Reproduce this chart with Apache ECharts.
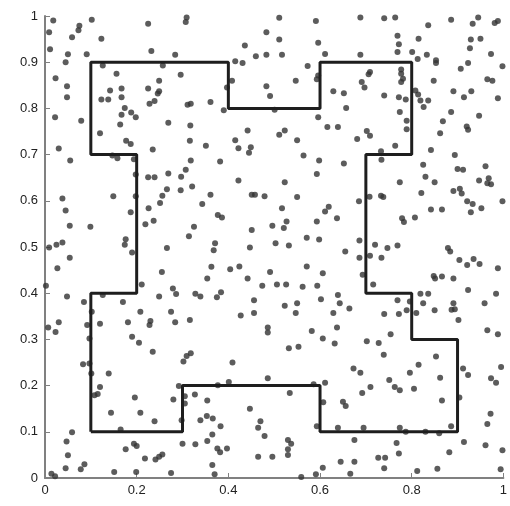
<!DOCTYPE html>
<html>
<head>
<meta charset="utf-8">
<script src="https://cdn.jsdelivr.net/npm/echarts@6/dist/echarts.min.js"></script>
<style>
  html, body { margin: 0; padding: 0; background: #fff; }
  #chart { width: 510px; height: 506px; }
</style>
</head>
<body>
<div id="chart"></div>
<script>
// tick labels
var xTicks = [0, 0.2, 0.4, 0.6, 0.8, 1];
var yTicks = [0, 0.1, 0.2, 0.3, 0.4, 0.5, 0.6, 0.7, 0.8, 0.9, 1];

// boundary of the region (closed outline)
var boundaryX = [0.1, 0.3, 0.3, 0.6, 0.6, 0.9, 0.9, 0.8, 0.8, 0.7, 0.7, 0.8, 0.8, 0.6, 0.6, 0.4, 0.4, 0.1, 0.1, 0.2, 0.2, 0.1, 0.1];
var boundaryY = [0.1, 0.1, 0.2, 0.2, 0.1, 0.1, 0.3, 0.3, 0.4, 0.4, 0.7, 0.7, 0.9, 0.9, 0.8, 0.8, 0.9, 0.9, 0.7, 0.7, 0.4, 0.4, 0.1];

// sample points
var points = [
  [0.018,0.990],[0.009,0.965],[0.075,0.979],[0.073,0.969],[0.102,0.992],[0.059,0.954],[0.123,0.951],[0.225,0.983],[0.309,0.997],[0.307,0.987],
  [0.011,0.928],[0.050,0.917],[0.091,0.917],[0.045,0.900],[0.232,0.924],[0.284,0.916],[0.126,0.893],[0.156,0.875],[0.257,0.893],[0.296,0.873],
  [0.023,0.865],[0.048,0.848],[0.048,0.824],[0.249,0.860],[0.225,0.843],[0.249,0.837],[0.246,0.832],[0.142,0.839],[0.167,0.843],[0.167,0.824],
  [0.123,0.819],[0.138,0.819],[0.239,0.816],[0.228,0.810],[0.311,0.808],[0.318,0.810],[0.174,0.801],[0.188,0.791],[0.198,0.781],[0.167,0.786],
  [0.022,0.781],[0.079,0.773],[0.164,0.765],[0.269,0.769],[0.317,0.763],
  [0.511,0.996],[0.591,0.989],[0.483,0.965],[0.511,0.949],[0.436,0.936],[0.596,0.942],[0.460,0.913],[0.483,0.916],[0.517,0.916],[0.611,0.918],
  [0.415,0.902],[0.431,0.898],[0.573,0.892],[0.596,0.871],[0.593,0.863],[0.408,0.860],[0.397,0.845],[0.547,0.860],[0.483,0.848],[0.491,0.827],
  [0.361,0.814],[0.390,0.796],[0.501,0.797],[0.629,0.837],[0.652,0.833],[0.657,0.801],[0.596,0.781],[0.616,0.760],[0.639,0.760],[0.442,0.752],
  [0.523,0.752],
  [0.688,0.997],[0.740,0.995],[0.764,0.997],[0.836,0.980],[0.886,0.992],[0.945,0.997],[0.933,0.983],[0.981,0.985],[0.988,0.989],[0.769,0.957],
  [0.772,0.939],[0.815,0.951],[0.929,0.949],[0.950,0.951],[0.927,0.930],[0.769,0.922],[0.801,0.922],[0.833,0.916],[0.973,0.918],[0.688,0.916],
  [0.813,0.907],[0.853,0.904],[0.853,0.898],[0.923,0.898],[0.907,0.886],[0.998,0.891],[0.709,0.879],[0.706,0.874],[0.777,0.884],[0.777,0.875],
  [0.781,0.864],[0.777,0.857],[0.691,0.857],[0.697,0.845],[0.848,0.860],[0.965,0.863],[0.976,0.860],[0.808,0.839],[0.814,0.830],[0.819,0.817],
  [0.836,0.817],[0.826,0.803],[0.740,0.828],[0.772,0.824],[0.787,0.819],[0.891,0.837],[0.914,0.824],[0.930,0.837],[0.988,0.822],[0.774,0.792],
  [0.789,0.773],[0.789,0.755],[0.886,0.792],[0.868,0.772],[0.947,0.784],[0.920,0.761],[0.923,0.754],[0.702,0.751],
  [0.120,0.746],[0.177,0.730],[0.187,0.723],[0.030,0.713],[0.055,0.687],[0.147,0.698],[0.158,0.692],[0.194,0.690],[0.235,0.711],[0.316,0.730],
  [0.318,0.687],[0.198,0.657],[0.225,0.651],[0.239,0.651],[0.269,0.659],[0.307,0.667],[0.297,0.652],[0.266,0.625],[0.296,0.623],[0.321,0.631],
  [0.038,0.605],[0.149,0.610],[0.198,0.610],[0.256,0.611],[0.251,0.595],[0.045,0.579],[0.187,0.575],[0.226,0.584],[0.054,0.546],[0.099,0.544],
  [0.219,0.549],[0.237,0.557],[0.325,0.544],[0.314,0.523],[0.176,0.517],[0.174,0.505],[0.025,0.505],[0.038,0.510],[0.266,0.498],
  [0.511,0.743],[0.351,0.719],[0.415,0.731],[0.422,0.714],[0.449,0.716],[0.445,0.704],[0.550,0.731],[0.564,0.698],[0.598,0.687],[0.652,0.681],
  [0.382,0.685],[0.593,0.658],[0.422,0.644],[0.523,0.640],[0.361,0.613],[0.451,0.613],[0.458,0.613],[0.479,0.610],[0.550,0.608],[0.343,0.593],
  [0.517,0.584],[0.619,0.587],[0.611,0.577],[0.377,0.569],[0.386,0.564],[0.637,0.562],[0.451,0.537],[0.496,0.546],[0.527,0.555],[0.521,0.541],
  [0.593,0.555],[0.571,0.520],[0.598,0.516],[0.371,0.508],[0.503,0.508],[0.532,0.503],[0.447,0.499],
  [0.709,0.741],[0.681,0.734],[0.764,0.719],[0.862,0.746],[0.733,0.707],[0.734,0.689],[0.842,0.710],[0.894,0.699],[0.825,0.678],[0.900,0.669],
  [0.912,0.667],[0.961,0.675],[0.830,0.652],[0.850,0.640],[0.774,0.640],[0.947,0.644],[0.968,0.649],[0.965,0.638],[0.973,0.636],[0.685,0.599],
  [0.708,0.609],[0.733,0.611],[0.738,0.608],[0.821,0.617],[0.891,0.621],[0.905,0.626],[0.909,0.616],[0.998,0.599],[0.921,0.599],[0.933,0.593],
  [0.952,0.584],[0.929,0.575],[0.842,0.581],[0.866,0.581],[0.779,0.562],[0.783,0.554],[0.807,0.564],[0.686,0.514],[0.720,0.505],[0.747,0.498],
  [0.769,0.503],[0.879,0.498],
  [0.009,0.499],[0.190,0.488],[0.054,0.477],[0.027,0.454],[0.255,0.446],[0.002,0.416],[0.211,0.419],[0.279,0.410],[0.286,0.398],[0.048,0.393],
  [0.126,0.396],[0.249,0.393],[0.328,0.399],[0.085,0.381],[0.170,0.381],[0.208,0.360],[0.275,0.360],[0.102,0.360],[0.030,0.337],[0.092,0.331],
  [0.120,0.334],[0.181,0.337],[0.230,0.340],[0.228,0.331],[0.284,0.337],[0.316,0.342],[0.007,0.326],[0.023,0.316],[0.097,0.302],[0.190,0.306],
  [0.205,0.293],[0.235,0.273],[0.309,0.264],[0.318,0.270],[0.302,0.252],[0.083,0.246],[0.097,0.248],
  [0.368,0.493],[0.655,0.490],[0.363,0.457],[0.404,0.452],[0.424,0.458],[0.491,0.446],[0.571,0.458],[0.606,0.443],[0.354,0.432],[0.442,0.432],
  [0.474,0.416],[0.506,0.419],[0.526,0.419],[0.562,0.414],[0.594,0.416],[0.339,0.393],[0.375,0.391],[0.384,0.402],[0.456,0.385],[0.523,0.373],
  [0.550,0.378],[0.602,0.387],[0.639,0.396],[0.643,0.378],[0.664,0.367],[0.427,0.352],[0.456,0.357],[0.547,0.357],[0.629,0.357],[0.486,0.326],
  [0.486,0.315],[0.582,0.318],[0.637,0.326],[0.606,0.302],[0.632,0.291],[0.532,0.281],[0.553,0.284],[0.409,0.250],
  [0.884,0.490],[0.686,0.477],[0.709,0.481],[0.734,0.477],[0.904,0.472],[0.921,0.461],[0.935,0.474],[0.948,0.463],[0.988,0.454],[0.693,0.440],
  [0.848,0.437],[0.851,0.432],[0.866,0.436],[0.891,0.432],[0.716,0.419],[0.923,0.407],[0.984,0.399],[0.819,0.399],[0.836,0.399],[0.769,0.385],
  [0.796,0.382],[0.825,0.378],[0.891,0.378],[0.894,0.365],[0.887,0.364],[0.959,0.378],[0.789,0.363],[0.810,0.357],[0.850,0.363],[0.740,0.355],
  [0.772,0.355],[0.902,0.342],[0.965,0.320],[0.988,0.311],[0.754,0.311],[0.702,0.296],[0.728,0.292],[0.739,0.267],[0.853,0.263],[0.815,0.245],
  [0.101,0.226],[0.139,0.226],[0.120,0.197],[0.108,0.179],[0.115,0.182],[0.196,0.174],[0.280,0.170],[0.292,0.199],[0.305,0.177],[0.305,0.161],
  [0.327,0.181],[0.144,0.141],[0.208,0.141],[0.239,0.123],[0.298,0.125],[0.165,0.105],[0.059,0.099],[0.047,0.079],[0.050,0.049],[0.194,0.074],
  [0.200,0.069],[0.176,0.062],[0.300,0.074],[0.328,0.073],[0.218,0.042],[0.241,0.040],[0.249,0.046],[0.256,0.051],[0.086,0.030],[0.078,0.019],
  [0.045,0.021],[0.014,0.009],[0.022,0.004],[0.151,0.013],[0.199,0.013],[0.275,0.011],
  [0.401,0.208],[0.377,0.201],[0.486,0.216],[0.586,0.203],[0.611,0.206],[0.354,0.168],[0.534,0.184],[0.607,0.164],[0.650,0.165],[0.656,0.156],
  [0.447,0.150],[0.339,0.125],[0.353,0.134],[0.366,0.129],[0.470,0.123],[0.383,0.112],[0.465,0.109],[0.593,0.112],[0.639,0.109],[0.365,0.094],
  [0.479,0.091],[0.354,0.080],[0.530,0.082],[0.537,0.074],[0.376,0.064],[0.382,0.056],[0.397,0.064],[0.530,0.062],[0.530,0.050],[0.465,0.046],
  [0.496,0.046],[0.365,0.028],[0.645,0.035],[0.606,0.022],[0.370,0.008],[0.591,0.008],[0.559,0.002],
  [0.673,0.237],[0.688,0.228],[0.912,0.237],[0.923,0.223],[0.995,0.240],[0.796,0.228],[0.862,0.217],[0.751,0.212],[0.710,0.197],[0.692,0.184],
  [0.763,0.197],[0.774,0.190],[0.805,0.193],[0.973,0.216],[0.984,0.206],[0.866,0.168],[0.904,0.174],[0.972,0.139],[0.965,0.117],[0.695,0.109],
  [0.774,0.109],[0.886,0.112],[0.860,0.097],[0.787,0.100],[0.830,0.100],[0.675,0.082],[0.767,0.076],[0.914,0.078],[0.961,0.071],[0.998,0.060],
  [0.772,0.053],[0.882,0.056],[0.675,0.035],[0.727,0.044],[0.742,0.044],[0.740,0.021],[0.812,0.015],[0.856,0.020],[0.666,0.009],[0.994,0.019]
];

var boundary = [];
for (var i = 0; i < boundaryX.length; i++) {
    boundary.push([boundaryX[i], boundaryY[i]]);
}

var chart = echarts.init(document.getElementById('chart'));

var axisText = {
    color: '#222',
    fontSize: 13,
    fontFamily: 'Liberation Sans, Arial, sans-serif'
};

var option = {
    animation: false,
    backgroundColor: '#fff',
    grid: {
        left: 45,
        top: 16,
        width: 464,
        height: 462
    },
    xAxis: {
        type: 'value',
        min: 0,
        max: 1,
        interval: 0.2,
        axisLine: { show: true, lineStyle: { color: '#808080', width: 2 } },
        axisTick: { show: true, inside: true, length: 5, lineStyle: { color: '#808080' } },
        splitLine: { show: false },
        axisLabel: Object.assign({
            margin: 6,
            formatter: function (v) { return xTicks.indexOf(+v.toFixed(1)) >= 0 ? String(+v.toFixed(1)) : ''; }
        }, axisText)
    },
    yAxis: {
        type: 'value',
        min: 0,
        max: 1,
        interval: 0.1,
        axisLine: { show: true, lineStyle: { color: '#808080', width: 2 } },
        axisTick: { show: true, inside: true, length: 5, lineStyle: { color: '#808080' } },
        splitLine: { show: false },
        axisLabel: Object.assign({
            margin: 7,
            formatter: function (v) { return yTicks.indexOf(+v.toFixed(1)) >= 0 ? String(+v.toFixed(1)) : ''; }
        }, axisText)
    },
    series: [
        {
            type: 'scatter',
            data: points,
            symbol: 'circle',
            symbolSize: 6,
            itemStyle: { color: '#333' },
            z: 2
        },
        {
            type: 'line',
            data: boundary,
            symbol: 'none',
            lineStyle: { color: '#1e1e1e', width: 3 },
            z: 3
        }
    ]
};

chart.setOption(option);
</script>
</body>
</html>
